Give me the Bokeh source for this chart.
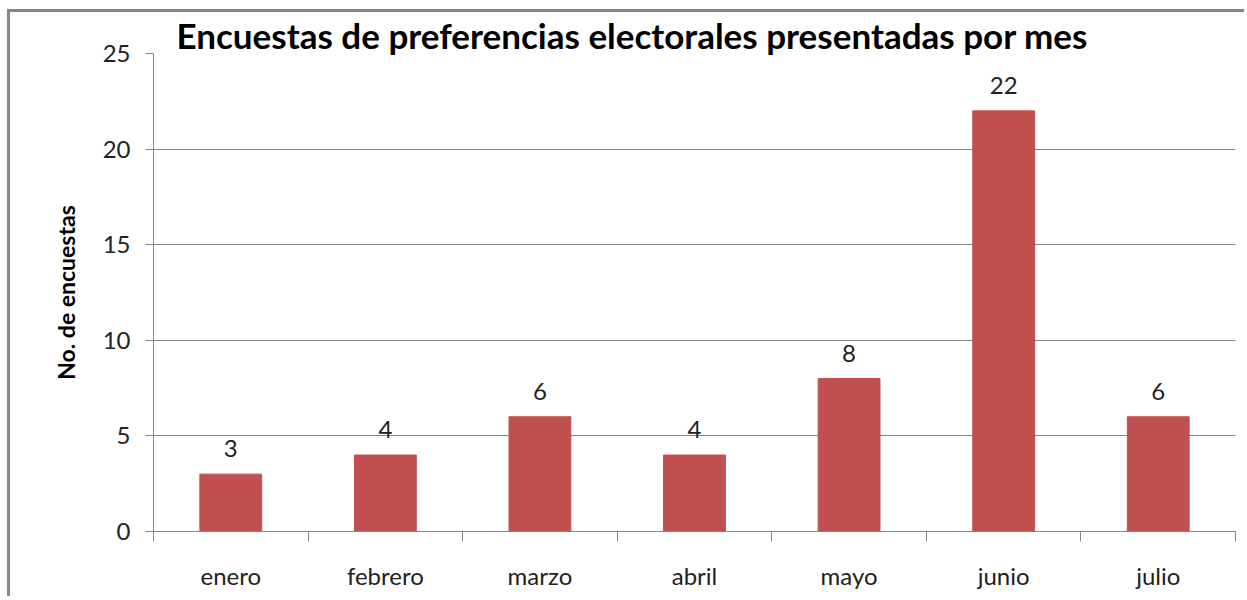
from bokeh.plotting import figure
from bokeh.models import ColumnDataSource, FixedTicker, LabelSet, Range1d
from bokeh.core.properties import value
from bokeh.embed import file_html
from bokeh.resources import INLINE

months = ["enero", "febrero", "marzo", "abril", "mayo", "junio", "julio"]
counts = [3, 4, 6, 4, 8, 22, 6]
y_ticks = [0, 5, 10, 15, 20, 25]
title_text = "Encuestas de preferencias electorales presentadas por mes"
y_label = "No. de encuestas"

FONT = "Lato"
GRAY = "#868686"
TXT = "#222222"

xs = [i + 0.5 for i in range(len(months))]
src = ColumnDataSource(dict(x=xs, top=counts, label=[str(c) for c in counts]))

p = figure(width=1237, height=587, output_backend="svg", toolbar_location=None,
           x_range=Range1d(0, len(months)), y_range=Range1d(0, max(y_ticks)),
           min_border_left=143, min_border_right=12, min_border_top=41,
           min_border_bottom=68)
p.styles = {"border-left": f"3px solid {GRAY}", "border-top": f"3px solid {GRAY}",
            "margin-left": "7px", "margin-top": "9px"}
p.outline_line_color = None
p.background_fill_color = "white"
p.border_fill_color = "white"

p.title.text = title_text
p.title.text_font = FONT
p.title.text_font_size = "35px"
p.title.text_font_style = "bold"
p.title.text_color = "black"
p.title.align = "left"
p.title.offset = 23
p.title.standoff = -5

p.vbar(x="x", top="top", width=0.4, bottom=0, color="#C0504D", source=src)

labels = LabelSet(x="x", y="top", text="label", source=src, text_align="center",
                  text_baseline="alphabetic", y_offset=17, text_font=value(FONT),
                  text_font_size="24px", text_color=TXT)
p.add_layout(labels)

# y axis
p.yaxis.ticker = FixedTicker(ticks=y_ticks)
p.yaxis.axis_line_color = GRAY
p.yaxis.major_tick_line_color = GRAY
p.yaxis.major_tick_out = 8
p.yaxis.major_tick_in = 0
p.yaxis.minor_tick_line_color = None
p.yaxis.major_label_text_font = FONT
p.yaxis.major_label_text_font_size = "24px"
p.yaxis.major_label_text_color = TXT
p.yaxis.major_label_standoff = 15
p.yaxis.axis_label = y_label
p.yaxis.axis_label_text_font = FONT
p.yaxis.axis_label_text_font_size = "23px"
p.yaxis.axis_label_text_font_style = "bold"
p.yaxis.axis_label_text_color = "black"
p.yaxis.axis_label_standoff = 20

# x axis: labels at centers, ticks at category boundaries
p.xaxis.ticker = FixedTicker(ticks=xs, minor_ticks=list(range(len(months) + 1)))
p.xaxis.major_label_overrides = {x: m for x, m in zip(xs, months)}
p.xaxis.axis_line_color = GRAY
p.xaxis.major_tick_line_color = None
p.xaxis.major_tick_out = 10
p.xaxis.major_tick_in = 0
p.xaxis.minor_tick_line_color = GRAY
p.xaxis.minor_tick_out = 10
p.xaxis.minor_tick_in = 0
p.xaxis.major_label_text_font = FONT
p.xaxis.major_label_text_font_size = "24px"
p.xaxis.major_label_text_color = TXT
p.xaxis.major_label_standoff = 19

p.xgrid.visible = False
p.ygrid.ticker = FixedTicker(ticks=y_ticks)
p.ygrid.grid_line_color = GRAY
p.ygrid.grid_line_width = 1

open("out.html", "w").write(file_html(p, INLINE))
